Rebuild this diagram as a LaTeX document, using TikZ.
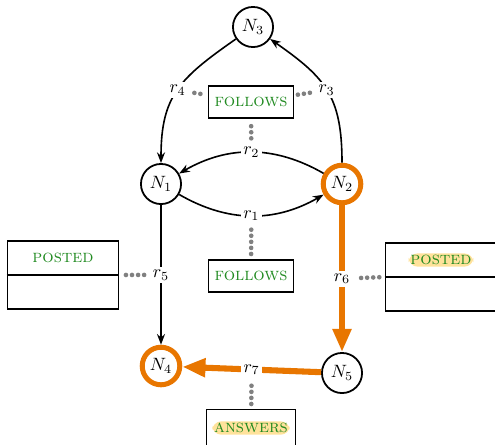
\documentclass[tikz,border=0pt]{standalone}
\usepackage{xcolor}
\usepackage{tikz}
\usepackage{amsmath}
\usetikzlibrary{arrows.meta}
\definecolor{kgorange}{RGB}{232,118,0}
\definecolor{kggreen}{RGB}{34,139,34}
\definecolor{kghl}{RGB}{255,226,155}
\definecolor{kgdots}{RGB}{128,128,128}
\newcommand{\hlword}[1]{\tikz[baseline=(hw.base)]\node[draw=none,fill=kghl,rounded corners=5pt,inner sep=1pt,minimum width=0pt,minimum height=0pt](hw){#1};}

\begin{document}
\begin{tikzpicture}[x=0.0197cm,y=0.0197cm,
  ent/.style={circle,draw,line width=1pt,minimum size=0.79cm,inner sep=0pt},
  hot/.style={ent,draw=kgorange,line width=2.8pt,minimum size=0.74cm},
  relbox/.style={draw,line width=0.6pt,minimum width=1.675cm,minimum height=0.63cm,text=kggreen},
  tabbox/.style={draw,line width=0.6pt,minimum width=2.2cm,minimum height=1.34cm},
  tabtext/.style={text=kggreen},
  lbl/.style={fill=white,inner sep=1.5pt},
  link/.style={line width=0.9pt,-{Stealth[length=6pt,width=4.5pt]}},
  hotlink/.style={draw=kgorange,line width=3.4pt,-{Triangle[length=13pt,width=10pt]}},
  dots/.style={kgdots,line width=2.6pt,line cap=round,dash pattern=on 0pt off 3.4pt,shorten <=3pt,shorten >=2pt}]
\useasboundingbox (0,0) rectangle (495,444);

% entities
\node[ent] (n3) at (253,417) {$N_3$};
\node[ent] (n1) at (161,260) {$N_1$};
\node[hot] (n2) at (342,260) {$N_2$};
\node[hot] (n4) at (161,78) {$N_4$};
\node[ent] (n5) at (342,71) {$N_5$};

% relation types
\node[relbox] (fol1) at (251,342) {\textsc{follows}};
\node[relbox] (fol2) at (251,168) {\textsc{follows}};
\node[relbox,minimum height=0.72cm] (ans) at (251,16) {\hlword{\textsc{answers}}};

% tables
\node[tabbox] (pl) at (63,169) {};
\draw[line width=0.6pt] (pl.west) -- (pl.east);
\node[tabtext] (plt) at (63,186) {\textsc{posted}};
\node[tabbox] (pr) at (441,167) {};
\draw[line width=0.6pt] (pr.west) -- (pr.east);
\node[tabtext] (prt) at (441,184) {\hlword{\textsc{posted}}};

% edges
\draw[link] (n3) to[out=-145,in=90,looseness=1.2] node[lbl] (l4) {$r_4$} (n1);
\draw[link] (n2) to[out=90,in=-35,looseness=1.2] node[lbl] (l3) {$r_3$} (n3);
\draw[link] (n2) to[bend right=30] node[lbl] (l2) {$r_2$} (n1);
\draw[link] (n1) to[bend right=30] node[lbl] (l1) {$r_1$} (n2);
\draw[link] (n1) -- node[lbl] (l5) {$r_5$} (n4);
\draw[hotlink] (n2) -- node[lbl] (l6) {$r_6$} (n5);
\draw[hotlink] (n5) -- node[lbl] (l7) {$r_7$} (n4);

% dotted links to types
\draw[dots] (l4) -- (fol1);
\draw[dots] (l3) -- (fol1);
\draw[dots] (l2) -- (fol1);
\draw[dots] (l1) -- (fol2);
\draw[dots] (l5) -- (pl.east);
\draw[dots] (l6) -- (pr.west);
\draw[dots] (l7) -- (ans);
\end{tikzpicture}
\end{document}
